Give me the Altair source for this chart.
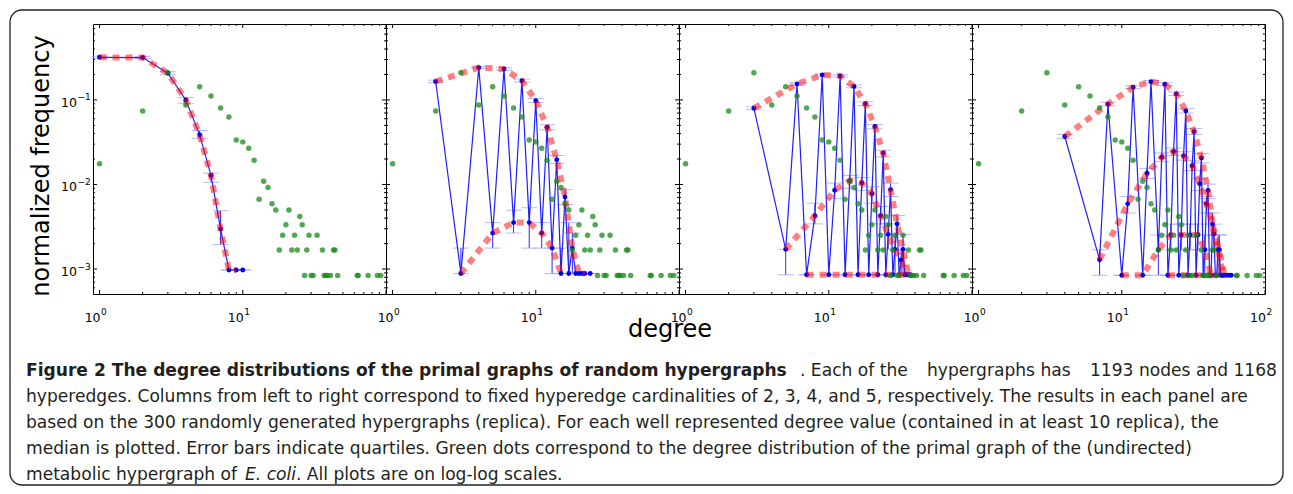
import altair as alt
import pandas as pd

W, H = 293, 270
XDOM = [0.9, 100]
YDOM = [0.000507, 0.79]

# ---------------- tick positions / labels ----------------
x_major = [1, 10, 100]
x_minor = [2, 3, 4, 5, 6, 7, 8, 9, 20, 30, 40, 50, 60, 70, 80, 90]
y_major = [0.001, 0.01, 0.1]
y_minor = [0.0006, 0.0007, 0.0008, 0.0009,
           0.002, 0.003, 0.004, 0.005, 0.006, 0.007, 0.008, 0.009,
           0.02, 0.03, 0.04, 0.05, 0.06, 0.07, 0.08, 0.09,
           0.2, 0.3, 0.4, 0.5, 0.6, 0.7]
x_lab_vals = [1, 10, 100]
x_lab_exp = ["0", "1", "2"]
y_lab_vals = [0.1, 0.01, 0.001]
y_lab_exp = ["\u22121", "\u22122", "\u22123"]

# ---------------- E. coli (green dots, same in every panel) ----------------
green_deg = [1, 2, 3, 4, 5, 6, 7, 8, 9, 10, 11, 12, 13, 14, 15, 16, 17, 18, 19, 20,
             21, 22, 23, 24, 25, 26, 27, 28, 29, 30, 31, 33, 36, 37, 38, 39, 41, 43,
             44, 46, 63, 64, 75, 87, 92]
green_freq = [0.0176, 0.0738, 0.2096, 0.0872, 0.1433, 0.1115, 0.0805, 0.0629, 0.0335, 0.0319,
              0.0268, 0.0193, 0.0067, 0.0109, 0.0092, 0.0059, 0.0050, 0.00168, 0.00251, 0.00335,
              0.0050, 0.00168, 0.00251, 0.00168, 0.00419, 0.00335, 0.00084, 0.00168, 0.00251, 0.00084,
              0.00084, 0.00251, 0.00168, 0.00084, 0.00084, 0.00084, 0.00084, 0.00168,
              0.00168, 0.00084, 0.00084, 0.00084, 0.00084, 0.00084, 0.00084]

# ---------------- panel 1 : cardinality 2 ----------------
p1_deg = [1, 2, 3, 4, 5, 6, 7, 8, 9, 10]
p1_med = [0.319, 0.317, 0.207, 0.100, 0.0386, 0.0128, 0.00297, 0.000975, 0.000975, 0.000975]
p1_q1 = [0.309, 0.307, 0.199, 0.0914, 0.0352, 0.0106, 0.00195, 0.000975, 0.000975, 0.000975]
p1_q3 = [0.328, 0.327, 0.215, 0.1066, 0.0435, 0.0136, 0.00490, 0.000975, 0.000975, 0.000975]
p1_red = [[1, 2, 3, 4, 5, 6, 7, 8, 9]]

# ---------------- panel 2 : cardinality 3 ----------------
F2 = 0.000885
p2_deg = [2, 3, 4, 5, 6, 7, 8, 9, 10, 11, 12, 13, 14, 15, 16, 17, 18, 19, 20, 21, 22, 24]
p2_med = [0.165, F2, 0.241, 0.00266, 0.232, 0.00354, 0.169, 0.00354, 0.098, 0.00266, 0.0476,
          0.00177, 0.0196, F2, 0.0071, F2, 0.00177, F2, F2, F2, F2, F2]
p2_q1 = [0.160, F2, 0.234, 0.00177, 0.224, 0.00266, 0.163, 0.00177, 0.093, 0.00177, 0.0443,
         F2, 0.0178, F2, 0.0058, F2, F2, F2, F2, F2, F2, F2]
p2_q3 = [0.171, 0.00177, 0.248, 0.00354, 0.240, 0.00496, 0.176, 0.00531, 0.104, 0.00354, 0.0509,
         0.00177, 0.0220, 0.00177, 0.0087, 0.00354, 0.00266, F2, F2, F2, F2, F2]
p2_red = [[2, 4, 6, 8, 10, 12, 14, 16, 18, 20, 22], [3, 5, 7, 9, 11, 13, 15]]

# ---------------- panel 3 : cardinality 4 ----------------
F3 = 0.000855
p3_deg = [3, 5, 6, 7, 8, 9, 10, 11, 12, 13, 14, 15, 16, 17, 18, 19, 20, 21, 22, 23,
          24, 25, 26, 27, 28, 29, 30, 31, 32, 33, 34, 35, 36, 37]
p3_med = [0.0798, 0.00171, 0.1545, F3, 0.00428, 0.197, F3, 0.00855, 0.192, F3,
          0.0111, 0.144, F3, 0.0104, 0.090, F3, 0.0078, 0.0484, F3, 0.00428,
          0.0235, F3, 0.00257, 0.0087, F3, 0.00171, 0.00342, F3, 0.00128, 0.00171,
          F3, F3, F3, F3]
p3_q1 = [0.0768, F3, 0.149, F3, 0.00342, 0.191, F3, 0.0068, 0.186, F3,
         0.0090, 0.139, F3, 0.0085, 0.086, F3, 0.0060, 0.0455, F3, 0.00342,
         0.0212, F3, 0.00171, 0.0072, F3, F3, 0.00257, F3, F3, F3,
         F3, F3, F3, F3]
p3_q3 = [0.0828, 0.00171, 0.160, F3, 0.0060, 0.203, F3, 0.0104, 0.198, F3,
         0.0128, 0.150, F3, 0.0121, 0.095, F3, 0.0094, 0.0513, F3, 0.0055,
         0.0254, F3, 0.00342, 0.0104, F3, 0.00257, 0.0043, F3, 0.00171, 0.00257,
         F3, F3, F3, F3]
p3_red = [[3, 6, 9, 12, 15, 18, 21, 24, 27, 30, 33, 36],
          [5, 8, 11, 14, 17, 20, 23, 26, 29, 32, 35],
          [7, 10, 13, 16, 19, 22, 25, 28, 31, 34, 37]]

# ---------------- panel 4 : cardinality 5 ----------------
F4 = 0.000845
p4_deg = [4, 7, 8, 10, 11, 12, 14, 15, 16, 18, 19, 20, 21, 22, 23, 24, 25, 26, 27, 28,
          29, 30, 31, 32, 33, 34, 35, 36, 37, 38, 39, 40, 41, 42, 43, 44, 45, 46, 47, 48,
          49, 50, 51, 52, 54, 56, 58]
p4_med = [0.0369, 0.00129, 0.089, F4, 0.0059, 0.141, F4, 0.0136, 0.1645, 0.00169,
          0.021, 0.153, F4, 0.00253, 0.0245, 0.118, F4, 0.00253, 0.0218, 0.074,
          F4, 0.00253, 0.0167, 0.042, F4, 0.00253, 0.0102, 0.0205, F4, 0.00169,
          0.0059, 0.0085, F4, F4, 0.0034, 0.0026, F4, F4, 0.00169, 0.00169,
          F4, F4, F4, F4, F4, F4, F4]
p4_q1 = [0.0348, F4, 0.085, F4, 0.0046, 0.136, F4, 0.0118, 0.159, F4,
         0.0186, 0.147, F4, 0.00169, 0.0220, 0.113, F4, 0.00169, 0.0194, 0.070,
         F4, 0.00169, 0.0146, 0.039, F4, 0.00169, 0.0085, 0.0180, F4, F4,
         0.0046, 0.0068, F4, F4, 0.00253, 0.00169, F4, F4, F4, F4,
         F4, F4, F4, F4, F4, F4, F4]
p4_q3 = [0.0392, 0.00169, 0.094, F4, 0.0072, 0.147, F4, 0.0155, 0.170, 0.00253,
         0.0236, 0.159, F4, 0.0034, 0.0270, 0.124, F4, 0.0034, 0.0244, 0.079,
         F4, 0.0034, 0.0190, 0.046, F4, 0.0034, 0.0118, 0.0232, F4, 0.00253,
         0.0072, 0.0101, F4, F4, 0.0046, 0.0034, F4, F4, 0.00253, 0.00253,
         F4, F4, F4, F4, F4, F4, F4]
p4_red = [[4, 8, 12, 16, 20, 24, 28, 32, 36, 40, 44, 48, 52],
          [7, 11, 15, 19, 23, 27, 31, 35, 39, 43, 47, 51],
          [10, 14, 18, 22, 26, 30, 34, 38, 42, 46],
          [21, 25, 29, 33, 37, 41, 45, 49]]

# ---------------- caption ----------------
cap_bold = "Figure 2 The degree distributions of the primal graphs of random hypergraphs"
cap_l1a = ". Each of the"
cap_l1b = "hypergraphs has"
cap_l1c = "1193 nodes and 1168"
cap_l2 = ("hyperedges. Columns from left to right correspond to fixed hyperedge cardinalities "
          "of 2, 3, 4, and 5, respectively. The results in each panel are")
cap_l3 = ("based on the 300 randomly generated hypergraphs (replica). For each well represented "
          "degree value (contained in at least 10 replica), the")
cap_l4 = ("median is plotted. Error bars indicate quartiles. Green dots correspond to the degree "
          "distribution of the primal graph of the (undirected)")
cap_l5a = "metabolic hypergraph of "
cap_l5b = "E. coli"
cap_l5c = ". All plots are on log-log scales."

ONE = pd.DataFrame({"k": [0]})
TFONT = "DejaVu Sans"
CFONT = "DejaVu Sans"
CSIZE = 17.1


def const_text(text, x, y, **kw):
    return alt.Chart(ONE).mark_text(**kw).encode(
        x=alt.value(x), y=alt.value(y), text=alt.value(text))


def panel(deg, med, q1, q3, red_sets, n_xlab, first=False):
    xs = alt.Scale(type="log", domain=XDOM, nice=False)
    ys = alt.Scale(type="log", domain=YDOM, nice=False)

    def X(f):
        return alt.X(f, type="quantitative", scale=xs, axis=None)

    def Y(f):
        return alt.Y(f, type="quantitative", scale=ys, axis=None)

    blue = pd.DataFrame(dict(deg=deg, med=med, q1=q1, q3=q3))
    lookup = dict(zip(deg, med))
    red = pd.DataFrame([{"deg": d, "val": lookup[d], "cls": k}
                        for k, s in enumerate(red_sets) for d in s])
    green = pd.DataFrame(dict(deg=green_deg, freq=green_freq))

    layers = []
    if first:
        layers.append(alt.Chart(ONE).mark_rect(
            fillOpacity=0, stroke="#222222", strokeWidth=1.3, cornerRadius=12).encode(
            x=alt.value(-83), x2=alt.value(1190), y=alt.value(-14), y2=alt.value(461)))

    # ticks (inward, on all four sides)
    for vals, L in ((x_major, 4), (x_minor, 2)):
        df = pd.DataFrame({"v": vals})
        layers.append(alt.Chart(df).mark_rule(color="black", strokeWidth=1).encode(
            x=X("v"), y=alt.value(H), y2=alt.value(H - L)))
        layers.append(alt.Chart(df).mark_rule(color="black", strokeWidth=1).encode(
            x=X("v"), y=alt.value(0), y2=alt.value(L)))
    for vals, L in ((y_major, 4), (y_minor, 2)):
        df = pd.DataFrame({"v": vals})
        layers.append(alt.Chart(df).mark_rule(color="black", strokeWidth=1).encode(
            y=Y("v"), x=alt.value(0), x2=alt.value(L)))
        layers.append(alt.Chart(df).mark_rule(color="black", strokeWidth=1).encode(
            y=Y("v"), x=alt.value(W), x2=alt.value(W - L)))

    # error bars (quartiles)
    layers.append(alt.Chart(blue).mark_rule(color="#2a2aff", strokeWidth=1).encode(
        x=X("deg"), y=Y("q1"), y2="q3"))
    for f in ("q1", "q3"):
        layers.append(alt.Chart(blue).mark_tick(
            orient="horizontal", color="#9a9aff", size=16, thickness=1).encode(
            x=X("deg"), y=Y(f)))
    # medians
    layers.append(alt.Chart(blue).mark_line(color="#1f1fff", strokeWidth=1.2).encode(
        x=X("deg"), y=Y("med")))
    layers.append(alt.Chart(blue).mark_point(
        filled=True, size=24, color="#0000ee", opacity=1).encode(
        x=X("deg"), y=Y("med")))
    # red dashed curves
    layers.append(alt.Chart(red).mark_line(
        color="#ff0000", opacity=0.5, strokeWidth=6, strokeDash=[7, 6]).encode(
        x=X("deg"), y=Y("val"), detail="cls:N"))
    # E. coli
    layers.append(alt.Chart(green).mark_circle(
        size=30, color="#1a8a1a", opacity=0.75).encode(x=X("deg"), y=Y("freq")))

    # x tick labels
    xl = pd.DataFrame({"v": x_lab_vals[:n_xlab], "base": ["10"] * n_xlab,
                       "exp": x_lab_exp[:n_xlab]})
    layers.append(alt.Chart(xl).mark_text(
        align="right", baseline="alphabetic", font=TFONT, fontSize=12.5, dx=1,
        color="black").encode(x=X("v"), y=alt.value(H + 28), text="base:N"))
    layers.append(alt.Chart(xl).mark_text(
        align="left", baseline="alphabetic", font=TFONT, fontSize=9, dx=1.5,
        color="black").encode(x=X("v"), y=alt.value(H + 21), text="exp:N"))

    if first:
        yl = pd.DataFrame({"v": y_lab_vals, "base": ["10"] * 3, "exp": y_lab_exp})
        layers.append(alt.Chart(yl).mark_text(
            align="right", baseline="alphabetic", font=TFONT, fontSize=12.5, dy=7,
            color="black").encode(y=Y("v"), x=alt.value(-16), text="base:N"))
        layers.append(alt.Chart(yl).mark_text(
            align="left", baseline="alphabetic", font=TFONT, fontSize=9, dy=0.5,
            color="black").encode(y=Y("v"), x=alt.value(-15.5), text="exp:N"))
        layers.append(const_text("normalized frequency", -44, 142, angle=270,
                                 align="center", baseline="alphabetic", font=TFONT,
                                 fontSize=24, color="black"))
        layers.append(const_text("degree", 577, 313, align="center",
                                 baseline="alphabetic", font=TFONT, fontSize=24,
                                 color="black"))
        ck = dict(baseline="alphabetic", font=CFONT, fontSize=CSIZE, color="#231f20")
        layers.append(const_text(cap_bold, -67, 351.5, align="left", fontWeight="bold", **ck))
        layers.append(const_text(cap_l1a, 707, 351.5, align="left", **ck))
        layers.append(const_text(cap_l1b, 834, 351.5, align="left", **ck))
        layers.append(const_text(cap_l1c, 1184, 351.5, align="right", **ck))
        layers.append(const_text(cap_l2, -67, 377.5, align="left", **ck))
        layers.append(const_text(cap_l3, -67, 403.5, align="left", **ck))
        layers.append(const_text(cap_l4, -67, 429.5, align="left", **ck))
        layers.append(const_text(cap_l5a, -67, 455.5, align="left", **ck))
        layers.append(const_text(cap_l5b, 152, 455.5, align="left", fontStyle="italic", **ck))
        layers.append(const_text(cap_l5c, 203, 455.5, align="left", **ck))

    return alt.layer(*layers).properties(width=W, height=H)


p1 = panel(p1_deg, p1_med, p1_q1, p1_q3, p1_red, 2, first=True)
p2 = panel(p2_deg, p2_med, p2_q1, p2_q3, p2_red, 2)
p3 = panel(p3_deg, p3_med, p3_q1, p3_q3, p3_red, 2)
p4 = panel(p4_deg, p4_med, p4_q1, p4_q3, p4_red, 3)

chart = alt.hconcat(p1, p2, p3, p4, spacing=0, bounds="flush").properties(
    padding={"left": 0, "top": 0, "right": 0, "bottom": 0},
    autosize=alt.AutoSizeParams(type="pad"),
).configure_view(stroke="black", strokeWidth=1)

chart.save("out.html", embed_options={"renderer": "svg", "actions": False})
